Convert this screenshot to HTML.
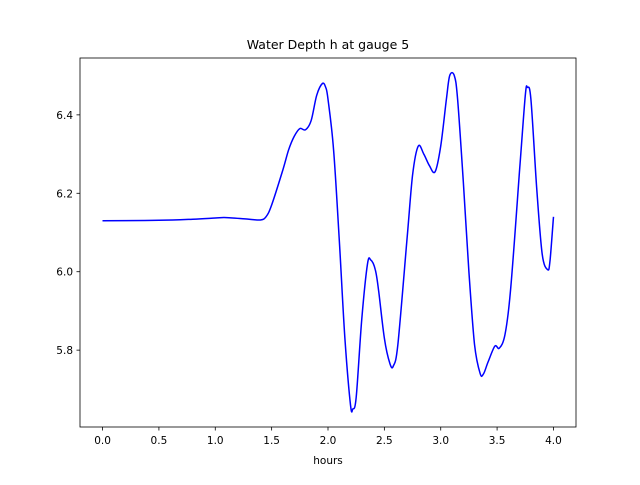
<!DOCTYPE html>
<html><head><meta charset="utf-8"><style>body{margin:0;background:#fff}svg text{font-family:"DejaVu Sans","Liberation Sans",sans-serif;fill:#000}</style></head>
<body><svg id="c" width="640" height="480"></svg>
<script>
const times=[0,0.5,0.8,1.0,1.1,1.3,1.4,1.45,1.5,1.6,1.65,1.7,1.75,1.8,1.85,1.9,1.95,1.98,2.0,2.05,2.1,2.15,2.2,2.22,2.25,2.3,2.35,2.38,2.42,2.45,2.5,2.55,2.58,2.62,2.7,2.75,2.8,2.85,2.9,2.95,3.0,3.05,3.08,3.12,3.15,3.2,3.25,3.3,3.35,3.38,3.42,3.48,3.52,3.57,3.62,3.7,3.75,3.77,3.8,3.85,3.9,3.95,3.97,4.0];
const depth=[6.13,6.131,6.134,6.137,6.138,6.134,6.132,6.14,6.17,6.26,6.31,6.345,6.365,6.362,6.385,6.45,6.48,6.47,6.44,6.31,6.08,5.83,5.66,5.65,5.68,5.88,6.02,6.03,6.005,5.95,5.83,5.765,5.76,5.815,6.08,6.245,6.32,6.3,6.27,6.255,6.32,6.44,6.5,6.5,6.44,6.23,6.0,5.815,5.74,5.74,5.77,5.81,5.805,5.84,5.955,6.26,6.45,6.47,6.44,6.22,6.045,6.005,6.03,6.14];
const xTicks=[0,0.5,1.0,1.5,2.0,2.5,3.0,3.5,4.0];
const yTicks=[5.8,6.0,6.2,6.4];
const L=80,R=576,T=58,B=427,x0=-0.2,x1=4.2,y0=5.604,y1=6.545;
const sx=v=>L+(v-x0)/(x1-x0)*(R-L), sy=v=>B-(v-y0)/(y1-y0)*(B-T);
const svg=document.getElementById('c');const NS='http://www.w3.org/2000/svg';
function mk(t,a,txt){const e=document.createElementNS(NS,t);for(const k in a)e.setAttribute(k,a[k]);if(txt!=null)e.textContent=txt;svg.appendChild(e);return e;}
const P=times.map((t,i)=>[sx(t),sy(depth[i])]);
let d='M'+P[0][0].toFixed(1)+','+P[0][1].toFixed(1);
for(let i=0;i<P.length-1;i++){const p0=P[Math.max(0,i-1)],p1=P[i],p2=P[i+1],p3=P[Math.min(P.length-1,i+2)];
const c1=[p1[0]+(p2[0]-p0[0])/6,p1[1]+(p2[1]-p0[1])/6],c2=[p2[0]-(p3[0]-p1[0])/6,p2[1]-(p3[1]-p1[1])/6];
d+='C'+c1.map(v=>v.toFixed(1)).join(',')+' '+c2.map(v=>v.toFixed(1)).join(',')+' '+p2.map(v=>v.toFixed(1)).join(',');}
const ln=mk('path',{d:d,fill:'none',stroke:'#0000ff','stroke-width':1.5,'stroke-linejoin':'round'});


const fr=mk('rect',{x:L,y:T,width:R-L,height:B-T,fill:'none',stroke:'#000','stroke-width':0.8});


xTicks.forEach(v=>{const x=sx(v);mk('line',{x1:x,x2:x,y1:B,y2:B+3.5,stroke:'#000','stroke-width':0.8});
const t=mk('text',{x:x,y:B+17,'text-anchor':'middle','font-size':10.5},v.toFixed(1));

});
yTicks.forEach(v=>{const y=sy(v);mk('line',{x1:L-3.5,x2:L,y1:y,y2:y,stroke:'#000','stroke-width':0.8});
const t=mk('text',{x:L-7,y:y+4,'text-anchor':'end','font-size':10.5},v.toFixed(1));

});
const xt=mk('text',{x:(L+R)/2,y:464,'text-anchor':'middle','font-size':10.5},'hours');


const ti=mk('text',{x:(L+R)/2,y:49,'text-anchor':'middle','font-size':12.5},'Water Depth h at gauge 5');


</script></body></html>
